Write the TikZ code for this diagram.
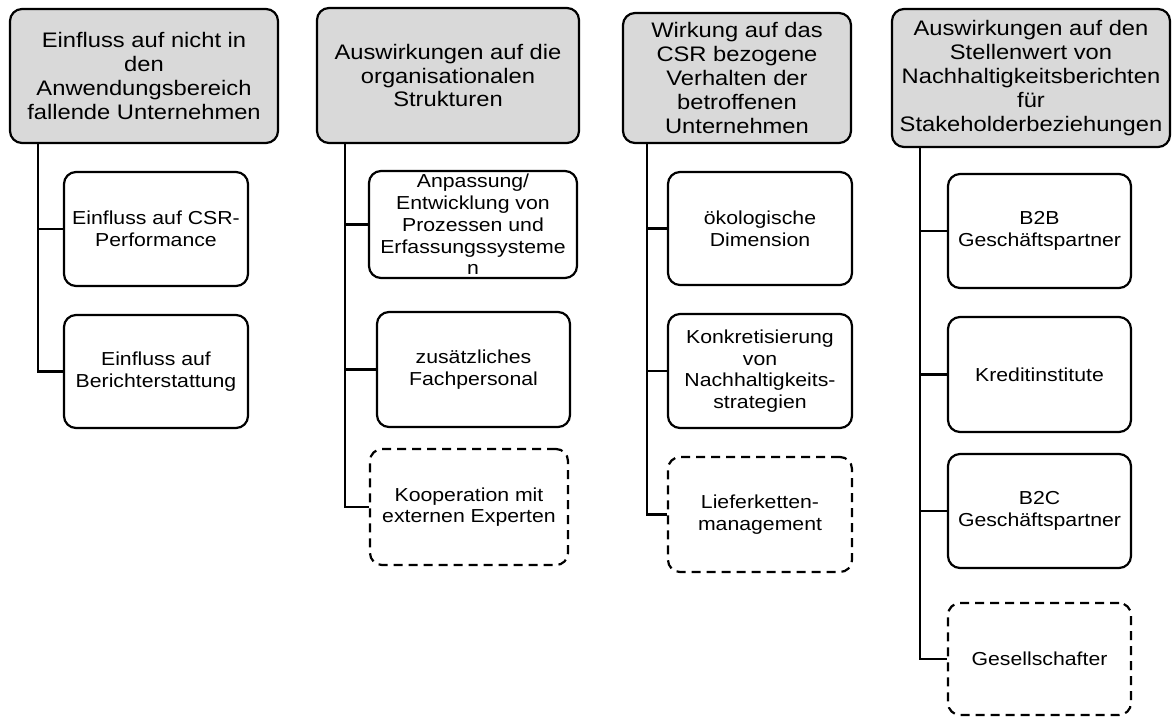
\documentclass[tikz,border=0pt]{standalone}
\usepackage{fontspec}
\setmainfont[FakeStretch=1.13]{Liberation Sans}
\definecolor{headgray}{HTML}{D9D9D9}
\begin{document}
\begin{tikzpicture}[x=1pt,y=-1pt,
  head/.style={draw, line width=2.2pt, rounded corners=12pt, fill=headgray, align=center, inner sep=0pt, font=\fontsize{21}{23.8}\selectfont},
  leaf/.style={draw, line width=2.2pt, rounded corners=12pt, fill=white, align=center, inner sep=0pt, font=\fontsize{18.8}{21.7}\selectfont},
  opt/.style={leaf, dash pattern=on 9pt off 6pt},
  link/.style={line width=2.2pt}]
\useasboundingbox (0,0) rectangle (1173,717);

% Column 1
\node[head, minimum width=268pt, minimum height=134pt] (h1) at (144,76) {Einfluss auf nicht in\\den\\Anwendungsbereich\\fallende Unternehmen};
\node[leaf, minimum width=184pt, minimum height=114pt] (c1a) at (156,229) {Einfluss auf CSR-\\Performance};
\node[leaf, minimum width=184pt, minimum height=113pt] (c1b) at (156,371.5) {Einfluss auf\\Berichterstattung};
\coordinate (t1) at (38,371.5);
\draw[link] (h1.south -| t1) -- (t1 |- c1b.west) -- (c1b.west);
\draw[link] (t1 |- c1a.west) -- (c1a.west);

% Column 2
\node[head, minimum width=262pt, minimum height=135pt] (h2) at (448,75.5) {Auswirkungen auf die\\organisationalen\\Strukturen};
\node[leaf, minimum width=208pt, minimum height=107pt] (c2a) at (473,224.5) {Anpassung/\\Entwicklung von\\Prozessen und\\Erfassungssysteme\\n};
\node[leaf, minimum width=193pt, minimum height=115pt] (c2b) at (473.5,369.5) {zusätzliches\\Fachpersonal};
\node[opt, minimum width=198pt, minimum height=116pt] (c2c) at (469,507) {Kooperation mit\\externen Experten};
\coordinate (t2) at (345,507);
\draw[link] (h2.south -| t2) -- (t2 |- c2c.west) -- (c2c.west);
\draw[link] (t2 |- c2a.west) -- (c2a.west);
\draw[link] (t2 |- c2b.west) -- (c2b.west);

% Column 3
\node[head, minimum width=228pt, minimum height=130pt] (h3) at (737,78) {Wirkung auf das\\CSR bezogene\\Verhalten der\\betroffenen\\Unternehmen};
\node[leaf, minimum width=184pt, minimum height=113pt] (c3a) at (760,228.5) {ökologische\\Dimension};
\node[leaf, minimum width=184pt, minimum height=114pt] (c3b) at (760,371) {Konkretisierung\\von\\Nachhaltigkeits-\\strategien};
\node[opt, minimum width=184pt, minimum height=115pt] (c3c) at (760,514.5) {Lieferketten-\\management};
\coordinate (t3) at (647,514.5);
\draw[link] (h3.south -| t3) -- (t3 |- c3c.west) -- (c3c.west);
\draw[link] (t3 |- c3a.west) -- (c3a.west);
\draw[link] (t3 |- c3b.west) -- (c3b.west);

% Column 4
\node[head, minimum width=278pt, minimum height=138pt] (h4) at (1031,78) {Auswirkungen auf den\\Stellenwert von\\Nachhaltigkeitsberichten\\für\\Stakeholderbeziehungen};
\node[leaf, minimum width=183pt, minimum height=114pt] (c4a) at (1039.5,231) {B2B\\Geschäftspartner};
\node[leaf, minimum width=183pt, minimum height=115pt] (c4b) at (1039.5,374.5) {Kreditinstitute};
\node[leaf, minimum width=183pt, minimum height=114pt] (c4c) at (1039.5,511) {B2C\\Geschäftspartner};
\node[opt, minimum width=183pt, minimum height=112pt] (c4d) at (1039.5,659) {Gesellschafter};
\coordinate (t4) at (920,659);
\draw[link] (h4.south -| t4) -- (t4 |- c4d.west) -- (c4d.west);
\draw[link] (t4 |- c4a.west) -- (c4a.west);
\draw[link] (t4 |- c4b.west) -- (c4b.west);
\draw[link] (t4 |- c4c.west) -- (c4c.west);
\end{tikzpicture}
\end{document}
